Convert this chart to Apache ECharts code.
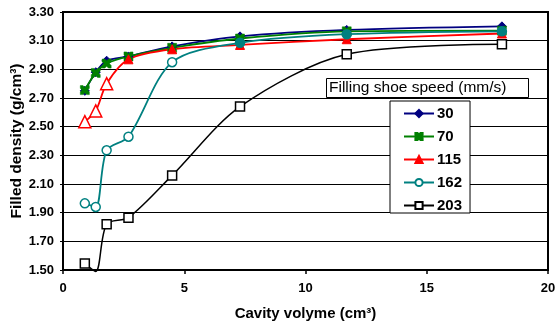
<!DOCTYPE html>
<html>
<head>
<meta charset="utf-8">
<script src="https://cdn.jsdelivr.net/npm/echarts@6/dist/echarts.min.js"></script>
<style>
html,body{margin:0;padding:0;background:#fff;}
#chart{width:557px;height:326px;}
</style>
</head>
<body>
<div id="chart"></div>
<script>
// Data
const cavityVolume = [0.9, 1.35, 1.8, 2.7, 4.5, 7.3, 11.7, 18.1];
const speeds = ['30', '70', '115', '162', '203'];
const density30  = [2.75, 2.88, 2.96, 2.99, 3.06, 3.13, 3.175, 3.20];
const density70  = [2.755, 2.875, 2.94, 2.99, 3.05, 3.115, 3.165, 3.17];
const density115 = [2.535, 2.61, 2.80, 2.97, 3.04, 3.07, 3.11, 3.15];
const density162 = [1.965, 1.94, 2.335, 2.43, 2.95, 3.085, 3.145, 3.165];
const density203 = [1.545, 1.49, 1.82, 1.865, 2.16, 2.64, 3.005, 3.075];
const yTicks = ['1.50','1.70','1.90','2.10','2.30','2.50','2.70','2.90','3.10','3.30'];

const FONT = '"Liberation Sans", Arial, sans-serif';
const xMark = 'path://M0,0 L3,0 L5,2 L7,0 L10,0 L10,3 L8,5 L10,7 L10,10 L7,10 L5,8 L3,10 L0,10 L0,7 L2,5 L0,3 Z';

function pairs(ys, itemFn) {
  return cavityVolume.map((x, i) => {
    const d = { value: [x, ys[i]] };
    if (itemFn) Object.assign(d, itemFn(i));
    return d;
  });
}

const chart = echarts.init(document.getElementById('chart'), null, { renderer: 'canvas' });
chart.setOption({
  animation: false,
  backgroundColor: '#fff',
  textStyle: { fontFamily: FONT },
  title: {
    text: 'Filling shoe speed (mm/s)',
    left: 326, top: 78,
    padding: [1, 22, 1, 3],
    borderColor: '#000', borderWidth: 1, backgroundColor: '#fff',
    textStyle: { fontFamily: FONT, fontSize: 15.5, lineHeight: 18, fontWeight: 'normal', color: '#000' }
  },
  legend: {
    orient: 'vertical',
    left: 390, top: 101,
    width: 80,
    padding: [5, 8, 0, 13],
    itemWidth: 30, itemHeight: 9, itemGap: 8,
    borderColor: '#000', borderWidth: 1, backgroundColor: '#fff',
    textStyle: { fontFamily: FONT, fontSize: 15, lineHeight: 14, fontWeight: 'bold', color: '#000', padding: [0,0,0,-2] },
    data: speeds
  },
  grid: {
    left: 63, right: 9, top: 12, bottom: 56,
    outerBoundsMode: 'none', containLabel: false,
    show: true, borderColor: '#000', borderWidth: 2, backgroundColor: 'transparent'
  },
  xAxis: {
    type: 'value', min: 0, max: 20, interval: 5,
    name: 'Cavity volyme (cm³)', nameLocation: 'middle', nameGap: 36, nameMoveOverlap: false,
    nameTextStyle: { fontFamily: FONT, fontSize: 15, fontWeight: 'bold', color: '#000' },
    axisLine: { show: true, onZero: false, lineStyle: { color: '#000', width: 2 } },
    axisTick: { show: true, inside: false, length: 4, lineStyle: { color: '#000', width: 1.5 } },
    axisLabel: { fontFamily: FONT, fontSize: 13, fontWeight: 'bold', color: '#000', margin: 12 },
    splitLine: { show: false }
  },
  yAxis: {
    type: 'value', min: 1.5, max: 3.3, interval: 0.2,
    name: 'Filled density (g/cm³)', nameLocation: 'middle', nameGap: 38, nameMoveOverlap: false,
    nameTextStyle: { fontFamily: FONT, fontSize: 15.5, fontWeight: 'bold', color: '#000' },
    axisLine: { show: true, lineStyle: { color: '#000', width: 2 } },
    axisTick: { show: true, length: 3, lineStyle: { color: '#000', width: 1 } },
    axisLabel: {
      fontFamily: FONT, fontSize: 13, fontWeight: 'bold', color: '#000', margin: 9,
      formatter: v => yTicks[Math.round((v - 1.5) / 0.2)] || v.toFixed(2)
    },
    splitLine: { show: true, lineStyle: { color: '#000', width: 1.2 } }
  },
  series: [
    {
      name: '30', type: 'line', smooth: 0.3, clip: false,
      data: pairs(density30),
      symbol: 'diamond', symbolSize: 9,
      lineStyle: { color: '#000080', width: 1.8 },
      itemStyle: { color: '#000080', borderColor: '#000080', borderWidth: 1 }
    },
    {
      name: '70', type: 'line', smooth: 0.3, clip: false,
      data: pairs(density70),
      symbol: xMark, symbolSize: 9,
      lineStyle: { color: '#008000', width: 1.8 },
      itemStyle: { color: '#008000', borderColor: '#008000', borderWidth: 0.5 }
    },
    {
      name: '115', type: 'line', smooth: 0.3, clip: false,
      data: pairs(density115, i => i < 3 ? {
        symbolSize: 12,
        itemStyle: { color: '#fff', borderColor: '#ff0000', borderWidth: 1.5 }
      } : {}),
      symbol: 'triangle', symbolSize: 9,
      lineStyle: { color: '#ff0000', width: 1.8 },
      itemStyle: { color: '#ff0000', borderColor: '#ff0000', borderWidth: 1 }
    },
    {
      name: '162', type: 'line', smooth: 0.3, clip: false,
      data: pairs(density162, i => i < 5 ? {} : {
        itemStyle: { color: '#008080', borderColor: '#008080', borderWidth: 1.5 }
      }),
      symbol: 'circle', symbolSize: 9,
      lineStyle: { color: '#008080', width: 1.8 },
      itemStyle: { color: '#fff', borderColor: '#008080', borderWidth: 1.5 }
    },
    {
      name: '203', type: 'line', smooth: 0.3, clip: false,
      data: pairs(density203, i => i === 1 ? { symbol: 'none' } : {}),
      symbol: 'rect', symbolSize: 9,
      lineStyle: { color: '#000', width: 1.5 },
      itemStyle: { color: '#fff', borderColor: '#000', borderWidth: 1.5 }
    }
  ]
});
</script>
</body>
</html>
